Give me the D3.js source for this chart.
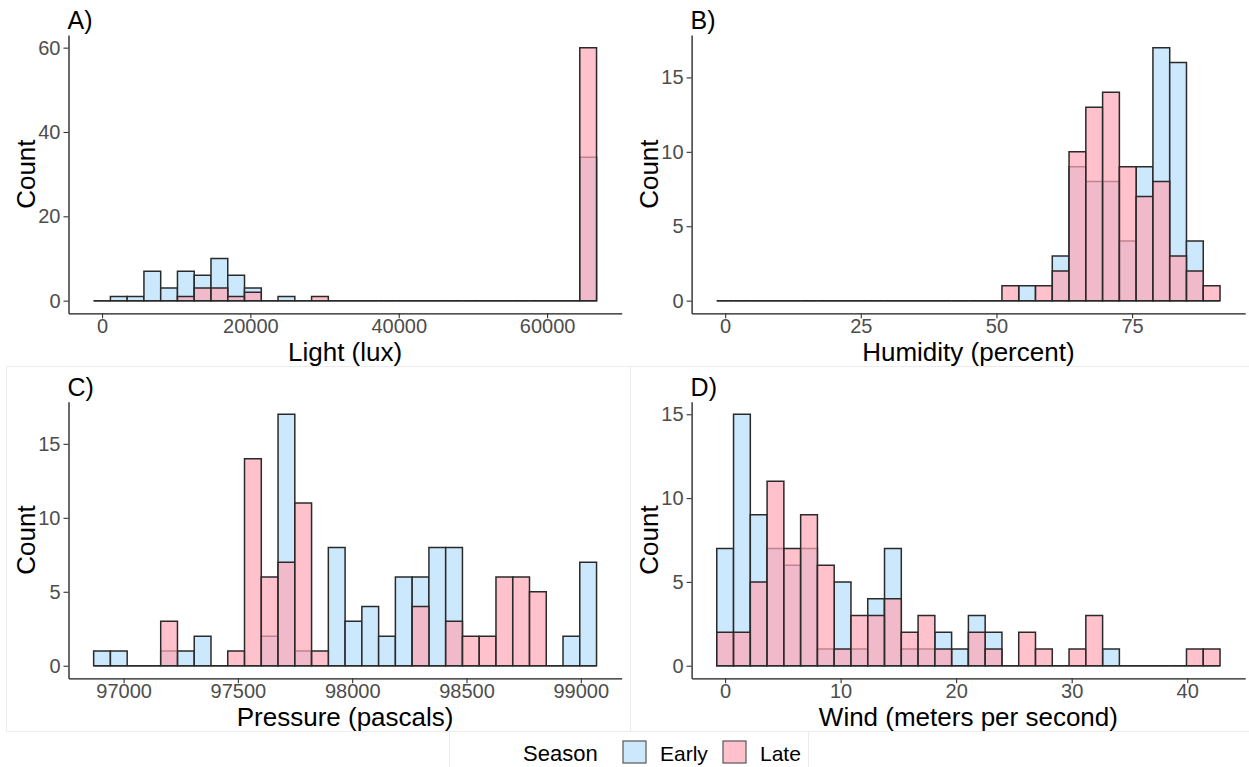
<!DOCTYPE html>
<html>
<head>
<meta charset="utf-8">
<script src="https://cdn.jsdelivr.net/npm/d3@7"></script>
<style>
  html, body { margin: 0; padding: 0; background: #ffffff; }
  svg { display: block; font-family: "Liberation Sans", Arial, sans-serif; }
</style>
</head>
<body>
<svg id="chart" width="1249" height="767"></svg>
<script>
// Season names
const seasons = ["Early", "Late"];

// A) Light (lux): 30 bins, counts per season
const lightStart = -1130, lightWidth = 2260;
const lightEarly = [0,1,1,7,3,7,6,10,6,3,0,1,0,0,0,0,0,0,0,0,0,0,0,0,0,0,0,0,0,34];
const lightLate  = [0,0,0,0,0,1,3,3,1,2,0,0,0,1,0,0,0,0,0,0,0,0,0,0,0,0,0,0,0,60];
const lightXTicks = [0, 20000, 40000, 60000];
const lightYTicks = [0, 20, 40, 60];

// B) Humidity (percent)
const humidityStart = -1.55, humidityWidth = 3.092;
const humidityEarly = [0,0,0,0,0,0,0,0,0,0,0,0,0,0,0,0,0,0,1,0,3,9,8,8,4,9,17,16,4,0];
const humidityLate  = [0,0,0,0,0,0,0,0,0,0,0,0,0,0,0,0,0,1,0,1,2,10,13,14,9,7,8,3,2,1];
const humidityXTicks = [0, 25, 50, 75];
const humidityYTicks = [0, 5, 10, 15];

// C) Pressure (pascals)
const pressureStart = 96869, pressureWidth = 73.33;
const pressureEarly = [1,1,0,0,1,1,2,0,0,0,2,17,1,0,8,3,4,2,6,6,8,8,0,0,0,0,0,0,2,7];
const pressureLate  = [0,0,0,0,3,0,0,0,1,14,6,7,11,1,0,0,0,0,0,4,0,3,2,2,6,6,5,0,0,0];
const pressureXTicks = [97000, 97500, 98000, 98500, 99000];
const pressureYTicks = [0, 5, 10, 15];

// D) Wind (meters per second)
const windStart = -0.72, windWidth = 1.452;
const windEarly = [7,15,9,7,6,7,1,5,1,4,7,1,1,2,1,3,2,0,0,0,0,0,0,1,0,0,0,0,0,0];
const windLate  = [2,2,5,11,7,9,6,1,3,3,4,2,3,1,0,2,1,0,2,1,0,1,3,0,0,0,0,0,1,1];
const windXTicks = [0, 10, 20, 30, 40];
const windYTicks = [0, 5, 10, 15];

const EARLY_FILL = "rgb(204,232,252)";
const LATE_FILL = "rgb(255,168,183)";
const LATE_ALPHA = 0.71;
const BAR_STROKE = "#2a2a2a";
const TICK_COLOR = "#4d4d4d";

const svg = d3.select("#chart");

// faint frame lines around the lower pair of plots and the legend strip
const frame = svg.append("g").attr("stroke", "#ececec").attr("stroke-width", 1).attr("fill", "none");
frame.append("path").attr("d", "M6.5,366.5H1249 M6.5,366.5V731.5 M630.5,367V731.5 M6.5,731.5H1249 M449.5,731.5V767 M808.5,731.5V767");

function histogramPanel(cfg) {
  const n = cfg.early.length;
  const binEdges = d3.range(n + 1).map(i => cfg.start + i * cfg.width);
  const lo = binEdges[0], hi = binEdges[n];
  const padX = (hi - lo) * 0.05;
  const maxCount = d3.max(cfg.early.concat(cfg.late));
  const padY = maxCount * 0.05;

  const x = d3.scaleLinear().domain([lo - padX, hi + padX]).range([cfg.box.left, cfg.box.right]);
  const y = d3.scaleLinear().domain([-padY, maxCount + padY]).range([cfg.box.bottom, cfg.box.top]);

  const g = svg.append("g");

  const bins = (counts) => counts.map((c, i) => ({ x0: binEdges[i], x1: binEdges[i + 1], count: c }));
  // bars as closed paths so that empty bins still leave their outline on the zero line
  const barPath = d => {
    const p = d3.path();
    p.moveTo(x(d.x0), y(0));
    p.lineTo(x(d.x0), y(d.count));
    p.lineTo(x(d.x1), y(d.count));
    p.lineTo(x(d.x1), y(0));
    p.closePath();
    return p.toString();
  };

  // Early bars first, Late bars drawn over them with a translucent fill
  g.append("g").selectAll("path").data(bins(cfg.early)).join("path")
    .attr("d", barPath)
    .attr("fill", EARLY_FILL).attr("stroke", BAR_STROKE).attr("stroke-width", 1.5)
    .attr("stroke-linejoin", "miter");

  g.append("g").selectAll("path").data(bins(cfg.late)).join("path")
    .attr("d", barPath)
    .attr("fill", LATE_FILL).attr("fill-opacity", LATE_ALPHA)
    .attr("stroke", BAR_STROKE).attr("stroke-width", 1.5)
    .attr("stroke-linejoin", "miter");

  // axes
  const xAxis = d3.axisBottom(x).tickValues(cfg.xTicks).tickFormat(d3.format("d"))
    .tickSizeInner(5).tickSizeOuter(0).tickPadding(1);
  const yAxis = d3.axisLeft(y).tickValues(cfg.yTicks).tickFormat(d3.format("d"))
    .tickSizeInner(5).tickSizeOuter(0).tickPadding(3);

  const gx = g.append("g").attr("transform", `translate(0,${cfg.box.bottom})`).call(xAxis);
  const gy = g.append("g").attr("transform", `translate(${cfg.box.left},0)`).call(yAxis);
  [gx, gy].forEach(ax => {
    ax.select(".domain").attr("stroke", "#1a1a1a").attr("stroke-width", 1.3);
    ax.selectAll(".tick line").attr("stroke", "#333333").attr("stroke-width", 1.1);
    ax.selectAll(".tick text").attr("fill", TICK_COLOR).attr("font-size", 20)
      .attr("font-family", "Liberation Sans, Arial, sans-serif");
  });

  const cx = (cfg.box.left + cfg.box.right) / 2;
  const cy = (cfg.box.top + cfg.box.bottom) / 2;

  g.append("text").attr("x", cx).attr("y", cfg.box.bottom + 47.5)
    .attr("text-anchor", "middle").attr("font-size", 26).attr("fill", "#000")
    .text(cfg.xTitle);

  g.append("text").attr("transform", `translate(${cfg.box.left - 34},${cy}) rotate(-90)`)
    .attr("text-anchor", "middle").attr("font-size", 26).attr("fill", "#000")
    .text("Count");

  g.append("text").attr("x", cfg.box.left - 1).attr("y", cfg.box.top - 6)
    .attr("font-size", 25).attr("fill", "#000").text(cfg.tag);
}

const leftBox = { left: 68.5, right: 621.7 };
const rightBox = { left: 691.6, right: 1245.2 };
const topRow = { top: 35, bottom: 313.3 };
const bottomRow = { top: 401.7, bottom: 678.3 };

histogramPanel({ tag: "A)", xTitle: "Light (lux)", start: lightStart, width: lightWidth,
  early: lightEarly, late: lightLate, xTicks: lightXTicks, yTicks: lightYTicks,
  box: { ...leftBox, ...topRow } });
histogramPanel({ tag: "B)", xTitle: "Humidity (percent)", start: humidityStart, width: humidityWidth,
  early: humidityEarly, late: humidityLate, xTicks: humidityXTicks, yTicks: humidityYTicks,
  box: { ...rightBox, ...topRow } });
histogramPanel({ tag: "C)", xTitle: "Pressure (pascals)", start: pressureStart, width: pressureWidth,
  early: pressureEarly, late: pressureLate, xTicks: pressureXTicks, yTicks: pressureYTicks,
  box: { ...leftBox, ...bottomRow } });
histogramPanel({ tag: "D)", xTitle: "Wind (meters per second)", start: windStart, width: windWidth,
  early: windEarly, late: windLate, xTicks: windXTicks, yTicks: windYTicks,
  box: { ...rightBox, ...bottomRow } });

// legend
const legend = svg.append("g").attr("font-size", 21).attr("fill", "#000");
legend.append("text").attr("x", 523).attr("y", 761).attr("font-size", 22).text("Season");
const keyFills = [EARLY_FILL, "rgb(255,194,204)"];
const keyX = [623, 723];
const labelX = [660, 760];
seasons.forEach((s, i) => {
  legend.append("rect").attr("x", keyX[i]).attr("y", 741).attr("width", 23).attr("height", 22)
    .attr("fill", keyFills[i]).attr("stroke", "#555555").attr("stroke-width", 1.2);
  legend.append("text").attr("x", labelX[i]).attr("y", 761).text(s);
});
</script>
</body>
</html>
